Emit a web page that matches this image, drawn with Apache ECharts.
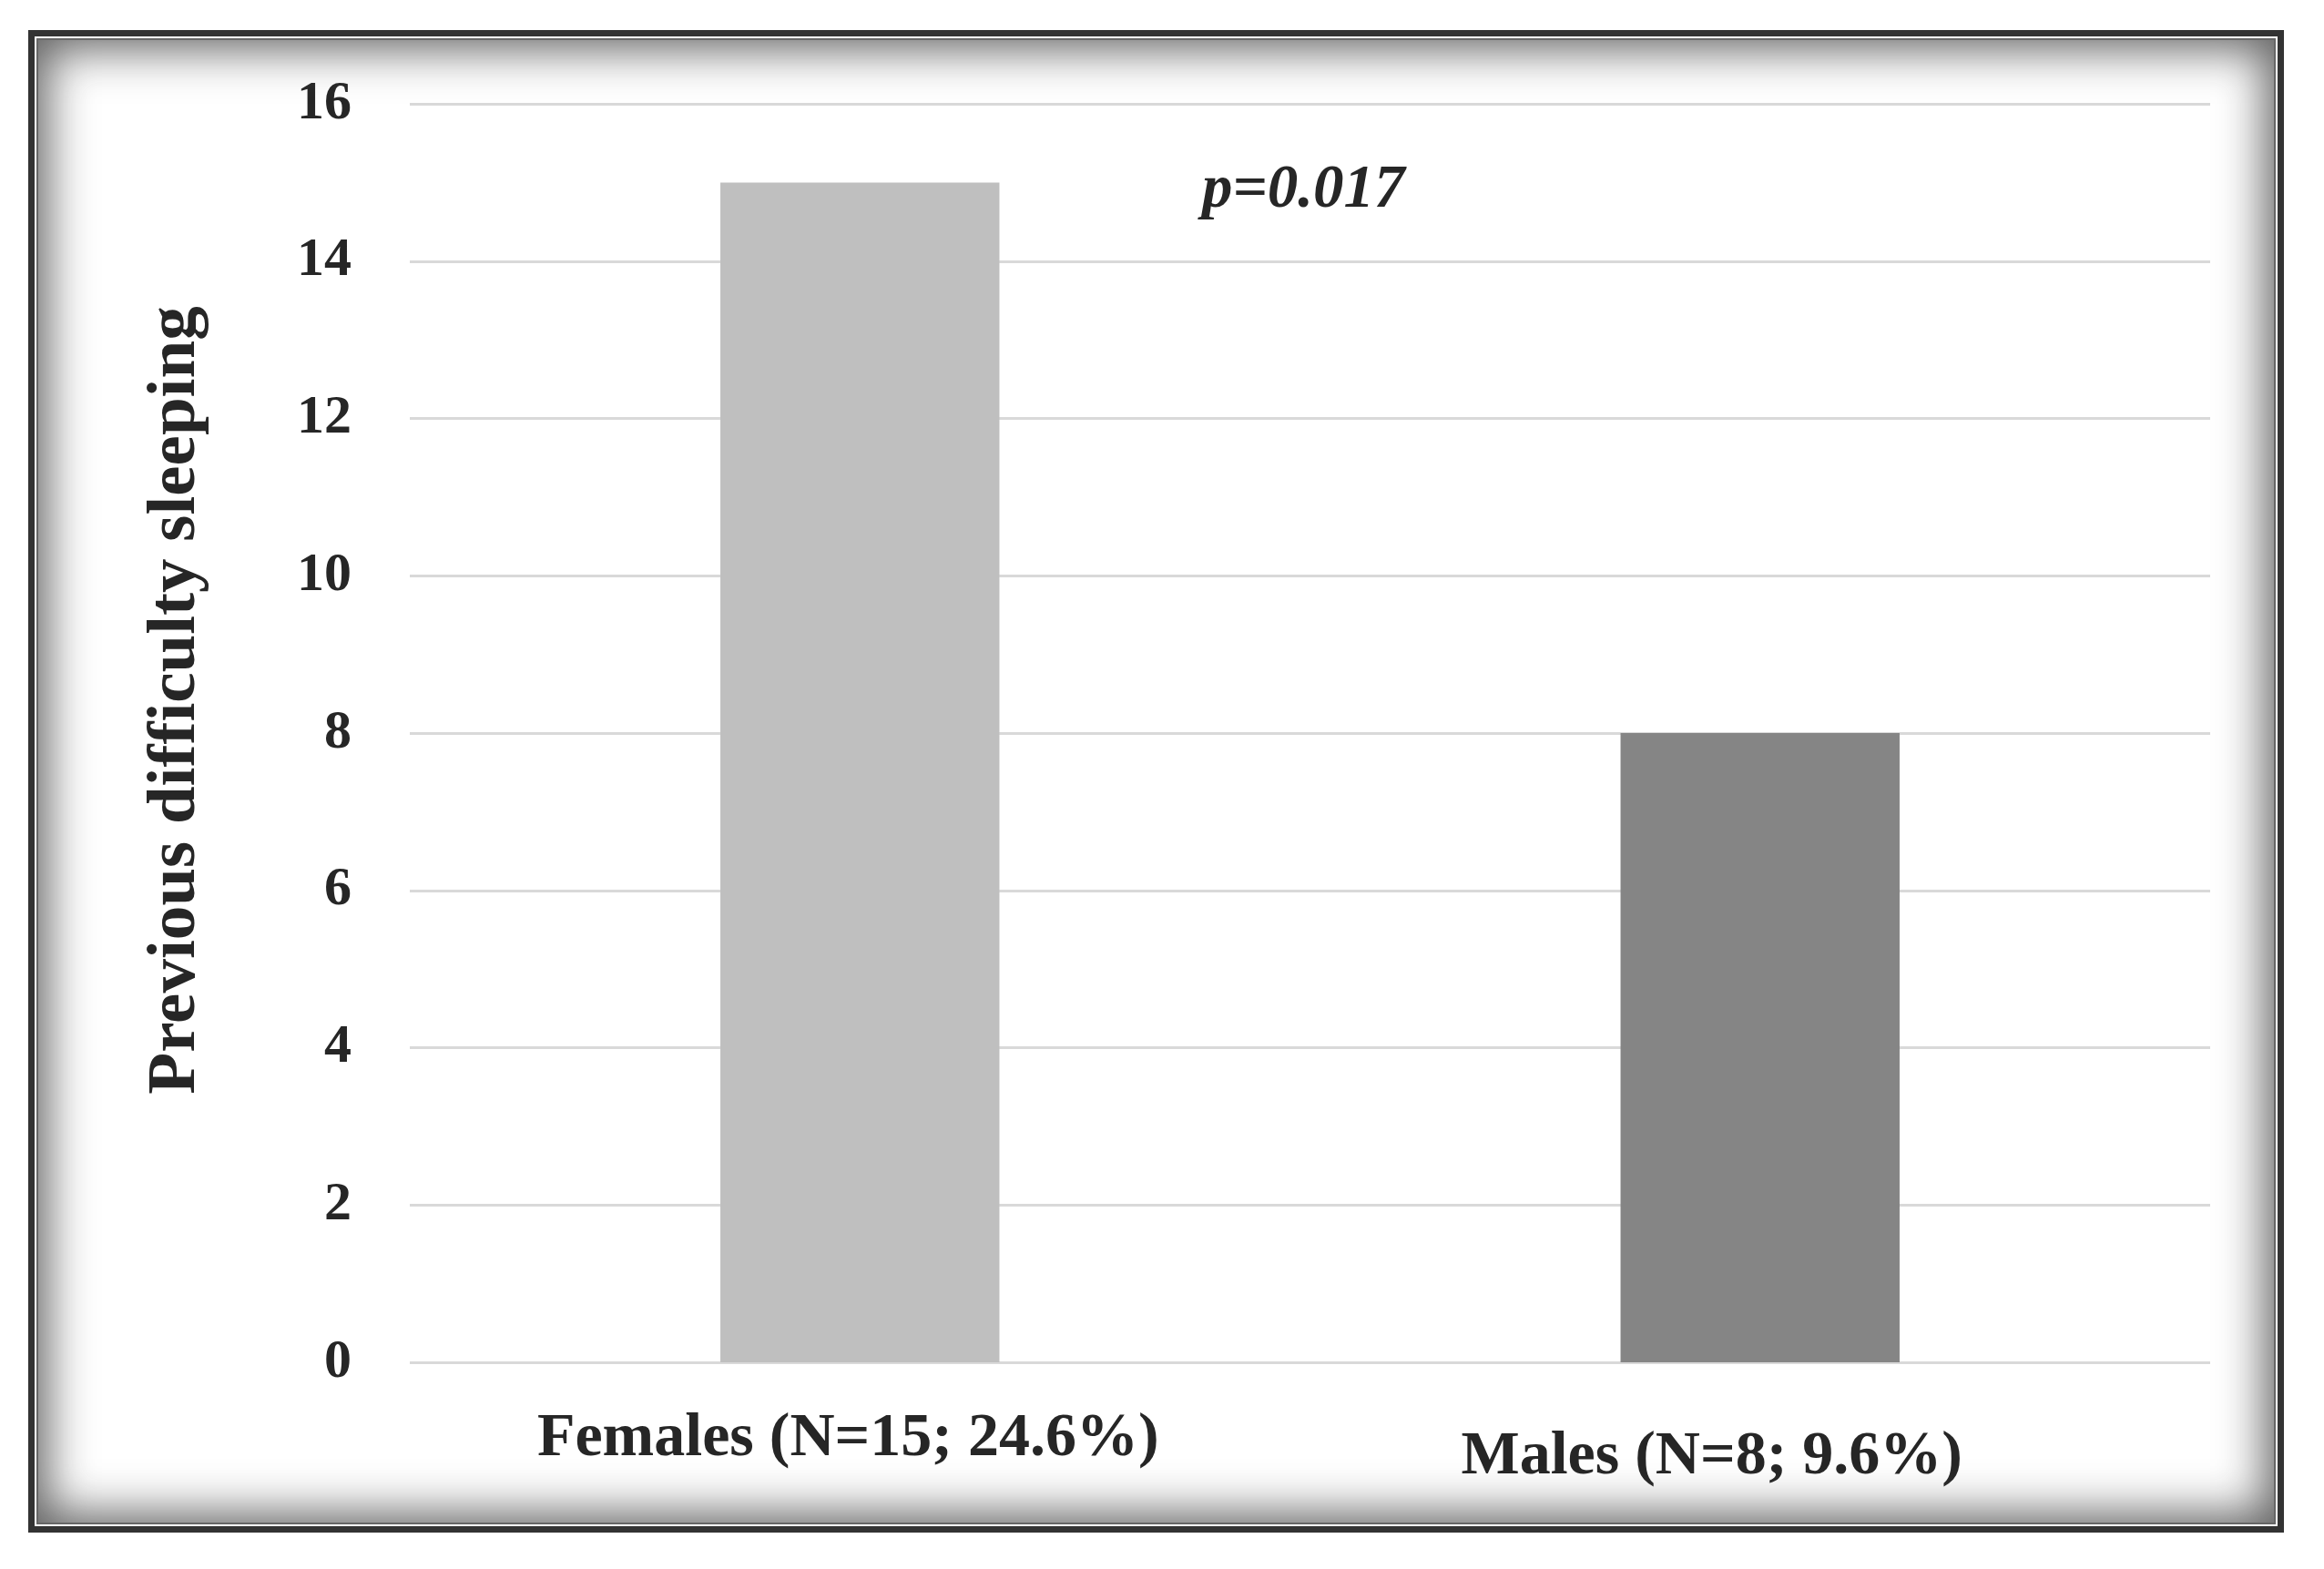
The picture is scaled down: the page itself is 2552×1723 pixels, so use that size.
<!DOCTYPE html>
<html>
<head>
<meta charset="utf-8">
<script src="https://cdn.jsdelivr.net/npm/echarts@6/dist/echarts.min.js"></script>
<style>
html,body{margin:0;padding:0;background:#fff;width:2552px;height:1723px;overflow:hidden}
#chart{position:absolute;left:0;top:0;width:2552px;height:1723px}
#frame{position:absolute;left:31px;top:33px;width:2477px;height:1650px;box-sizing:border-box;border:7px solid #333;
box-shadow: inset 0 0 0 2px #fff, inset 0 0 0 4px #666, inset 0 0 50px 14px rgba(90,90,90,0.95);pointer-events:none}
</style>
</head>
<body>
<div id="chart"></div>
<div id="frame"></div>
<script>
const categories = ['Females (N=15; 24.6%)', 'Males (N=8; 9.6%)'];
const values = [15, 8];
const yTicks = { min: 0, max: 16, interval: 2 };
const axisTitle = 'Previous difficulty sleeping';
const annotation = 'p=0.017';

const barColors = ['#bfbfbf', '#858585'];
const serif = '"Liberation Serif", "Times New Roman", serif';

const chart = echarts.init(document.getElementById('chart'));
chart.setOption({
  backgroundColor: 'transparent',
  animation: false,
  grid: { left: 450, right: 125, top: 114, bottom: 227 },
  xAxis: {
    type: 'category',
    data: categories,
    axisLine: { show: false },
    axisTick: { show: false },
    axisLabel: {
      interval: 0,
      margin: 50,
      formatter: function (v, i) { return (i === 0 ? '{a|' : '{b|') + v + '}'; },
      rich: {
        a: { fontFamily: serif, fontWeight: 'bold', fontSize: 68, color: '#262626', padding: [0, 26, 0, 0] },
        b: { fontFamily: serif, fontWeight: 'bold', fontSize: 68, color: '#262626', padding: [20, 106, 0, 0] }
      }
    }
  },
  yAxis: {
    type: 'value',
    min: yTicks.min,
    max: yTicks.max,
    interval: yTicks.interval,
    name: axisTitle,
    nameLocation: 'middle',
    nameRotate: 90,
    nameGap: 219,
    nameTextStyle: { fontFamily: serif, fontWeight: 'bold', fontSize: 75, color: '#262626', padding: [0, 0, 0, 72] },
    axisLine: { show: false },
    axisTick: { show: false },
    axisLabel: { fontFamily: serif, fontWeight: 'bold', fontSize: 60, color: '#262626', margin: 64 },
    splitLine: { lineStyle: { color: '#d9d9d9', width: 3 } }
  },
  series: [{
    type: 'bar',
    barWidth: '31%',
    data: values.map(function (v, i) { return { value: v, itemStyle: { color: barColors[i] } }; })
  }],
  graphic: [{
    type: 'text',
    left: 1320,
    top: 176,
    style: { text: annotation, fontFamily: serif, fontWeight: 'bold', fontStyle: 'italic', fontSize: 67, fill: '#262626' }
  }]
});
</script>
</body>
</html>
